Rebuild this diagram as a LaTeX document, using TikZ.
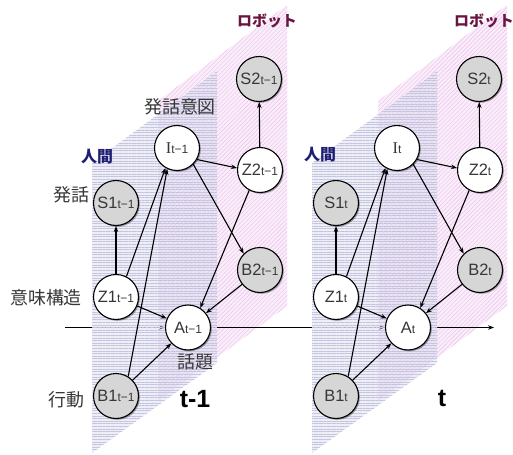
\documentclass[tikz,border=0pt]{standalone}
\usepackage{fontspec}
\setmainfont{Liberation Sans}
\newfontfamily\jp{Noto Sans CJK JP}
\newfontfamily\serifI{Liberation Serif}
\usetikzlibrary{arrows.meta,patterns.meta,shadows}
\pgfdeclarelayer{base}
\pgfdeclarelayer{bg}
\pgfdeclarelayer{mid}
\pgfsetlayers{base,bg,mid,main}

\definecolor{humanline}{RGB}{196,196,224}
\definecolor{humanfill}{RGB}{222,222,238}
\definecolor{robotline}{RGB}{238,200,238}
\definecolor{robotfill}{RGB}{251,238,251}
\definecolor{navyc}{RGB}{30,30,115}
\definecolor{maroonc}{RGB}{105,20,65}
\definecolor{nodegray}{RGB}{214,214,214}
\definecolor{txtc}{RGB}{55,55,55}

\newcommand\sbs[1]{{\fontsize{12}{12}\selectfont #1}}

\tikzset{
  nd/.style={circle, draw=black, line width=1.1bp, minimum size=45bp, inner sep=0pt,
    font=\fontsize{16.5}{16.5}\selectfont, text=txtc,
    drop shadow={shadow xshift=1.3bp, shadow yshift=-1.3bp, opacity=0.35, fill=black}},
  wnode/.style={nd, fill=white},
  gnode/.style={nd, fill=nodegray},
  arr/.style={-{Stealth[length=6bp,width=4.5bp]}, line width=1.1bp},
  lbl/.style={font=\jp\fontsize{18}{18}\selectfont, text=txtc, inner sep=0pt},
  hum/.style={font=\jp\bfseries\fontsize{16}{16}\selectfont, text=navyc, inner sep=0pt},
  rob/.style={font=\jp\bfseries\fontsize{15}{15}\selectfont, text=maroonc, inner sep=0pt},
  tl/.style={font=\bfseries\fontsize{25}{25}\selectfont, text=black, inner sep=0pt},
  humplane/.style={fill=humanfill, fill opacity=0.5},
  humpat/.style={pattern={Lines[angle=0,distance=2.6bp,line width=0.6bp]}, pattern color=humanline},
  robplane/.style={fill=robotfill},
  robpat/.style={pattern={Lines[angle=45,distance=3bp,line width=0.6bp]}, pattern color=robotline},
}

% #1 suffix, #2 x offset, #3 subscript
\newcommand\grpnodes[3]{%
  \node[wnode] (I#1) at (#2+177,148) {{\serifI I}\sbs{#3}};
  \node[wnode] (Z2#1) at (#2+260,170) {Z2\sbs{#3}};
  \node[gnode] (S2#1) at (#2+259,79) {S2\sbs{#3}};
  \node[gnode] (S1#1) at (#2+116,203) {S1\sbs{#3}};
  \node[wnode] (Z1#1) at (#2+116,297) {Z1\sbs{#3}};
  \node[wnode] (A#1) at (#2+188,327.5) {A\sbs{#3}};
  \node[gnode] (B1#1) at (#2+116,396) {B1\sbs{#3}};
  \node[gnode] (B2#1) at (#2+260,270) {B2\sbs{#3}};
  \draw[arr] (Z1#1) -- (S1#1);
  \draw[arr] (Z1#1.63) -- (I#1.240);
  \draw[arr] (B1#1.58) -- (I#1.245);
  \draw[arr] (Z1#1) -- (A#1);
  \draw[arr] (B1#1) -- (A#1);
  \draw[arr] (I#1.-30) -- (Z2#1.175);
  \draw[arr] (I#1.-45) -- (B2#1.135);
  \draw[arr] (Z2#1.-118) -- (A#1.58);
  \draw[arr] (Z2#1) -- (S2#1);
  \draw[arr] (B2#1) -- (A#1);
}
\newcommand\grpplanes[1]{%
  \begin{pgfonlayer}{bg}
    \path[robplane] (#1+158,101) -- (#1+287,5) -- (#1+287,306) -- (#1+158,401) -- cycle;
    \path[robpat] (#1+158,101) -- (#1+287,5) -- (#1+287,306) -- (#1+158,401) -- cycle;
  \end{pgfonlayer}
  \begin{pgfonlayer}{mid}
    \path[humplane] (#1+92,163) -- (#1+217,71) -- (#1+217,363) -- (#1+92,453) -- cycle;
    \path[humpat] (#1+92,163) -- (#1+217,71) -- (#1+217,363) -- (#1+92,453) -- cycle;
  \end{pgfonlayer}
}

\begin{document}
\begin{tikzpicture}[x=1bp,y=-1bp]
\useasboundingbox (0,0) rectangle (513,455);
\begin{pgfonlayer}{base}
  \fill[white] (0,0) rectangle (513,455);
\end{pgfonlayer}

\grpplanes{0}
\grpplanes{220}

\grpnodes{a}{0}{t−1}
\grpnodes{b}{220}{t}

% time axis (behind the human planes)
\coordinate (axs) at (65,327.5);
\coordinate (axe) at (494,327.5);
\begin{pgfonlayer}{bg}
  \draw[arr] (axs) -- (Aa.west);
  \draw[arr] (Aa.east) -- (Ab.west);
  \draw[arr] (Ab.east) -- (axe);
\end{pgfonlayer}

% labels
\node[lbl] (hatsuwa) at (71,195) {発話};
\node[lbl] (imi) at (46,298) {意味構造};
\node[lbl] (koudou) at (66,400) {行動};
\node[lbl] (ito) at (180,107) {発話意図};
\node[lbl] (wadai) at (195,362) {話題};
\node[hum] (hum1) at (97,157) {人間};
\node[hum] (hum2) at (320,155) {人間};
\node[rob] (rob1) at (267,21) {ロボット};
\node[rob] (rob2) at (484,21) {ロボット};
\node[tl] (t1) at (195,399) {t-1};
\node[tl] (t2) at (442,398) {t};
\end{tikzpicture}
\end{document}
